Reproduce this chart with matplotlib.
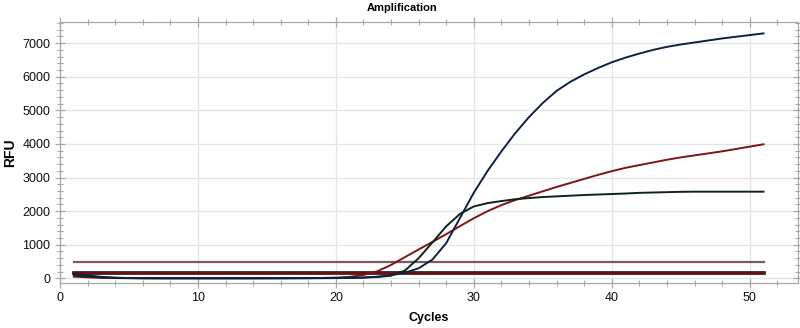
import matplotlib
matplotlib.use("Agg")
import matplotlib.pyplot as plt
from matplotlib.ticker import MultipleLocator

plt.rcParams['font.family'] = ['Liberation Sans', 'DejaVu Sans']

cycles = list(range(1, 52))

navy = [150, 90, 45, 20, 10, 5, 3, 2, 2, 2, 2, 2, 2, 3, 3, 4, 5, 6, 8, 10,
        15, 25, 50, 95, 170, 300, 560, 1050, 1800, 2550, 3200, 3780, 4320, 4800, 5220,
        5580, 5850, 6070, 6260, 6430, 6570, 6690, 6800, 6890, 6960, 7020, 7080, 7140,
        7190, 7240, 7290]

red = [50, 30, 15, 8, 5, 3, 3, 2, 2, 2, 2, 2, 3, 3, 4, 5, 6, 8, 12, 22,
       45, 100, 210, 400, 630, 860, 1085, 1315, 1555, 1790, 2000, 2180, 2330, 2460, 2590,
       2720, 2840, 2960, 3080, 3190, 3290, 3370, 3450, 3530, 3600, 3660, 3720, 3780,
       3850, 3920, 3990]

black = [100, 60, 30, 15, 8, 6, 5, 4, 4, 4, 4, 4, 4, 4, 5, 5, 6, 6, 7, 8,
         12, 22, 40, 80, 230, 600, 1070, 1550, 1920, 2140, 2240, 2300, 2355, 2390, 2420,
         2440, 2460, 2480, 2495, 2510, 2525, 2545, 2555, 2565, 2575, 2580, 2580, 2580,
         2580, 2580, 2580]

threshold_high = 480
threshold_low = 160

fig = plt.figure(figsize=(8, 3.28), dpi=100)
ax = fig.add_axes([0.075, 0.137, 0.9225, 0.796])

grid_c = '#e4e4e4'
spine_c = '#a8a8a8'

ax.plot([cycles[0], cycles[-1]], [threshold_high] * 2, color='#7d5a60', lw=1.6, zorder=3)
ax.plot([cycles[0], cycles[-1]], [threshold_low] * 2, color='#1a0a0a', lw=2.6, zorder=3)
ax.plot([cycles[0], cycles[-1]], [threshold_low] * 2, color='#6e1014', lw=1.4, zorder=3)

ax.plot(cycles, red, color='#7a1518', lw=1.4, zorder=4)
ax.plot(cycles, black, color='#0e2416', lw=1.4, zorder=4)
ax.plot(cycles, navy, color='#0f2240', lw=1.4, zorder=4)

ax.set_xlim(0, 53.5)
ax.set_ylim(-140, 7630)

ax.xaxis.set_major_locator(MultipleLocator(10))
ax.xaxis.set_minor_locator(MultipleLocator(2))
ax.yaxis.set_major_locator(MultipleLocator(1000))
ax.yaxis.set_minor_locator(MultipleLocator(200))

ax.grid(True, which='major', color=grid_c, lw=0.9, zorder=0)
ax.set_axisbelow(True)

for s in ax.spines.values():
    s.set_color(spine_c)
    s.set_linewidth(0.9)

ax.tick_params(which='both', direction='inout', color=spine_c, labelsize=9,
               labelcolor='#111111', top=True, right=True)
ax.tick_params(which='major', length=7, width=0.9)
ax.tick_params(which='minor', length=5, width=0.8)
ax.tick_params(axis='x', pad=3)

ax.set_xlabel('Cycles', fontsize=9, fontweight='bold', labelpad=6)
ax.set_ylabel('RFU', fontsize=10, fontweight='bold', labelpad=4)
fig.text(0.503, 0.975, 'Amplification', ha='center', va='center',
         fontsize=8, fontweight='bold')

fig.savefig('out.png', dpi=100)
